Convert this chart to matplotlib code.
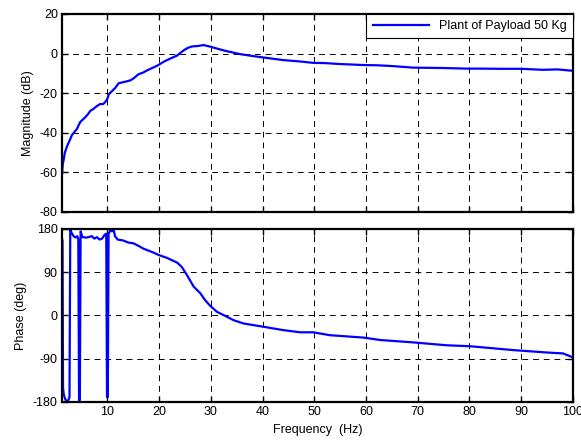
import matplotlib
matplotlib.use('Agg')
import matplotlib.pyplot as plt

plt.rcParams['font.family'] = ['Liberation Sans', 'DejaVu Sans']
plt.rcParams['axes.unicode_minus'] = False

# Magnitude response
mag_freq = [1.25, 1.4, 1.55, 1.8, 2.2, 2.7, 3.2, 3.7, 4.15, 4.5, 4.8, 5.2, 5.8, 6.3, 6.7,
            7.3, 8.0, 8.6, 9.2, 9.6, 10.0, 10.3, 10.9, 11.5, 12.2, 13.0, 13.8, 14.5, 15.1,
            16.0, 17.0, 17.7, 18.5, 19.6, 21.0, 22.2, 23.5, 24.7, 25.5, 26.4, 27.5, 28.6,
            29.9, 31.5, 33.1, 35.7, 38.0, 40.2, 42.0, 44.0, 47.3, 49.8, 52, 55, 57, 59.5,
            62, 65, 69.1, 72, 75, 79.4, 82, 86, 90, 94.2, 97, 100]
mag_db = [-61, -56, -54, -50, -47, -44, -41, -39.5, -38, -36, -34.5, -33.5, -32, -30.5, -29,
          -28, -26.5, -25.5, -25.5, -24.5, -23, -20.5, -19, -17.5, -15, -14.5, -14.0, -13.5,
          -12.5, -10.5, -9.5, -8.5, -7.5, -6.2, -4, -2.5, -1, 1.5, 2.8, 3.6, 3.8, 4.3,
          3.5, 2.3, 1.2, -0.3, -1.2, -2.0, -2.6, -3.3, -4.0, -4.7, -4.8, -5.3, -5.5, -5.8,
          -5.9, -6.3, -7.1, -7.2, -7.3, -7.6, -7.6, -7.7, -7.7, -8.2, -8.0, -8.7]

# Phase response (wrapped)
ph_freq = [1.25, 1.35, 1.45, 1.6, 1.9, 2.2, 2.5, 2.7, 2.85, 3.1, 3.5, 3.9, 4.2, 4.4, 4.55,
           4.7, 4.85, 5.2, 6.0, 7.0, 7.5, 8.0, 8.5, 9.0, 9.5, 9.8, 9.95, 10.1, 10.25, 10.6,
           10.9, 11.2, 11.5, 12.0, 13.1, 14.0, 15.1, 16.0, 17.0, 18.9, 19.9, 21.5, 23.5,
           24.4, 25.4, 26.7, 28.0, 28.9, 29.9, 31.2, 32.5, 34.4, 36.3, 40.2, 44.0, 47.3,
           49.8, 53, 59.5, 62.7, 69.1, 75.6, 80.1, 88.4, 94.9, 98.1, 99.7]
ph_deg = [160, 155, -150, -165, -175, -178, -176, -170, 178, 172, 165, 162, 165, 160, -178,
          -175, 175, 163, 162, 165, 160, 163, 158, 160, 168, 170, -170, -170, 170, 178,
          175, 180, 165, 158, 156, 152, 150, 145, 139, 131, 126, 120, 110,
          101, 84, 60, 46, 32, 20, 7.6, 0.7, -9.7, -16.6, -23.5, -30.5, -35,
          -35, -41, -46, -51, -56, -62, -64, -72, -77, -79, -86]

fig = plt.figure(figsize=(5.81, 4.46), dpi=100)
ax1 = fig.add_axes([0.1067, 0.5247, 0.8795, 0.444])
ax2 = fig.add_axes([0.1067, 0.0987, 0.8795, 0.3879])

ax1.plot(mag_freq, mag_db, color='#0000ff', lw=1.6, label='Plant of Payload 50 Kg')
ax2.plot(ph_freq, ph_deg, color='#0000ff', lw=1.6)

xticks = [10, 20, 30, 40, 50, 60, 70, 80, 90, 100]
for ax in (ax1, ax2):
    ax.set_xlim(1.25, 100)
    ax.set_xticks(xticks)
    ax.grid(True, color='black', linestyle=(0, (6, 5)), linewidth=0.7)
    ax.tick_params(direction='in', length=4, width=1, top=True, right=True,
                   labelsize=9, pad=3)
    for s in ax.spines.values():
        s.set_linewidth(1.6)

ax1.set_ylim(-80, 20)
ax1.set_yticks([-80, -60, -40, -20, 0, 20])
ax1.tick_params(labelbottom=False)
ax1.set_ylabel('Magnitude (dB)', fontsize=9)

ax2.set_ylim(-180, 180)
ax2.set_yticks([-180, -90, 0, 90, 180])
ax2.set_ylabel('Phase (deg)', fontsize=9)
ax2.set_xlabel('Frequency  (Hz)', fontsize=9)

leg = ax1.legend(loc='upper right', fontsize=9, fancybox=False, framealpha=1,
                 borderaxespad=0, handlelength=4.5, borderpad=0.5)
leg.get_frame().set_edgecolor('black')
leg.get_frame().set_linewidth(0.8)

fig.savefig('out.png', dpi=100)
